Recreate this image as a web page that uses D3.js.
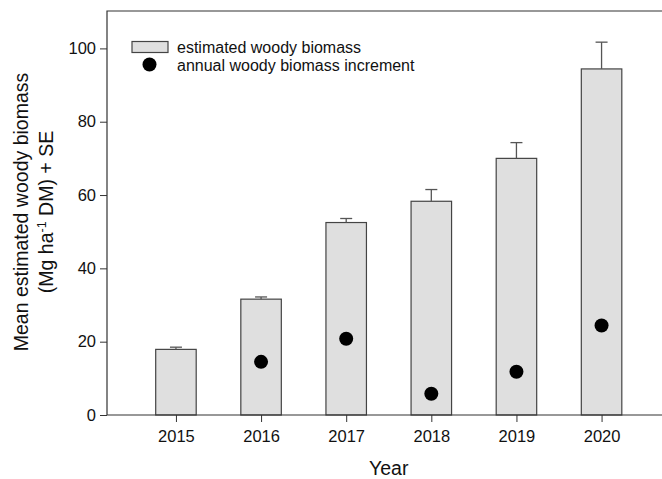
<!DOCTYPE html>
<html>
<head>
<meta charset="utf-8">
<script src="https://cdn.jsdelivr.net/npm/d3@7"></script>
<style>
  body { margin: 0; background: #fff; }
  svg { display: block; font-family: Arial, "Liberation Sans", sans-serif; }
</style>
</head>
<body>
<svg id="chart" width="662" height="479"></svg>
<script>
// data
const years = [2015, 2016, 2017, 2018, 2019, 2020];
const biomass = [17.9, 31.6, 52.5, 58.3, 70.0, 94.4];
const biomassSE = [0.6, 0.6, 1.1, 3.2, 4.3, 7.3];
const incYears = [2016, 2017, 2018, 2019, 2020];
const increment = [14.5, 20.8, 5.8, 11.8, 24.4];
const yTicks = [0, 20, 40, 60, 80, 100];

const width = 662, height = 479;
const margin = { left: 107, top: 11, right: 0, bottom: 64 };

const svg = d3.select("#chart");

const x = d3.scaleLinear()
  .domain([2014.19, 2020.71])
  .range([margin.left, width - margin.right]);

const y = d3.scaleLinear()
  .domain([0, 110.2])
  .range([height - margin.bottom, margin.top]);

const barW = 40.5;
const ink = "#333";

// bars
svg.append("g")
  .selectAll("rect")
  .data(years)
  .join("rect")
  .attr("x", d => x(d) - barW / 2)
  .attr("y", (d, i) => y(biomass[i]))
  .attr("width", barW)
  .attr("height", (d, i) => y(0) - y(biomass[i]))
  .attr("fill", "#dfdfdf")
  .attr("stroke", "#444")
  .attr("stroke-width", 1.2);

// error bars (upper only)
const err = svg.append("g").attr("stroke", "#555").attr("stroke-width", 1.3);
years.forEach((yr, i) => {
  const cx = x(yr);
  err.append("line")
    .attr("x1", cx).attr("x2", cx)
    .attr("y1", y(biomass[i])).attr("y2", y(biomass[i] + biomassSE[i]));
  err.append("line")
    .attr("x1", cx - 6).attr("x2", cx + 6)
    .attr("y1", y(biomass[i] + biomassSE[i])).attr("y2", y(biomass[i] + biomassSE[i]));
});

// increment points
svg.append("g")
  .selectAll("circle")
  .data(incYears)
  .join("circle")
  .attr("cx", d => x(d))
  .attr("cy", (d, i) => y(increment[i]))
  .attr("r", 7)
  .attr("fill", "#000");

// axes
const yAxis = d3.axisLeft(y).tickValues(yTicks).tickSize(7).tickPadding(4);
const gy = svg.append("g")
  .attr("transform", `translate(${margin.left},0)`)
  .call(yAxis);

const xAxis = d3.axisBottom(x).tickValues(years).tickFormat(d3.format("d")).tickSize(7).tickPadding(8);
const gx = svg.append("g")
  .attr("transform", `translate(0,${y(0)})`)
  .call(xAxis);

[gy, gx].forEach(g => {
  g.select(".domain").remove();
  g.selectAll(".tick line").attr("stroke", ink).attr("stroke-width", 1);
  g.selectAll(".tick text")
    .attr("fill", "#111")
    .style("font-family", "Arial, 'Liberation Sans', sans-serif")
    .style("font-size", "16.5px");
});

// frame: left, top and bottom lines
svg.append("path")
  .attr("d", `M${width},${margin.top}H${margin.left}V${y(0)}H${width}`)
  .attr("fill", "none")
  .attr("stroke", ink)
  .attr("stroke-width", 1.2);

// axis titles
svg.append("text")
  .attr("x", x(2017.5))
  .attr("y", 475)
  .attr("text-anchor", "middle")
  .attr("fill", "#111")
  .style("font-size", "19.5px")
  .text("Year");

const ylab = svg.append("text")
  .attr("transform", "translate(28,212) rotate(-90)")
  .attr("text-anchor", "middle")
  .attr("fill", "#111")
  .style("font-size", "19.5px");
ylab.append("tspan").attr("x", 0).attr("dy", 0).text("Mean estimated woody biomass");
const l2 = ylab.append("tspan").attr("x", 0).attr("dy", 25);
l2.append("tspan").text("(Mg ha");
l2.append("tspan").attr("dy", -7).style("font-size", "12.5px").text("-1");
l2.append("tspan").attr("dy", 7).text(" DM) + SE");

// legend
const lg = svg.append("g");
lg.append("rect")
  .attr("x", 132).attr("y", 41.5)
  .attr("width", 36).attr("height", 11)
  .attr("fill", "#dfdfdf").attr("stroke", "#444").attr("stroke-width", 1.2);
lg.append("circle")
  .attr("cx", 149.5).attr("cy", 64.5).attr("r", 7).attr("fill", "#000");
lg.append("text")
  .attr("x", 177).attr("y", 53)
  .attr("fill", "#111").style("font-size", "16px")
  .text("estimated woody biomass");
lg.append("text")
  .attr("x", 177).attr("y", 70.5)
  .attr("fill", "#111").style("font-size", "16px")
  .text("annual woody biomass increment");
</script>
</body>
</html>
